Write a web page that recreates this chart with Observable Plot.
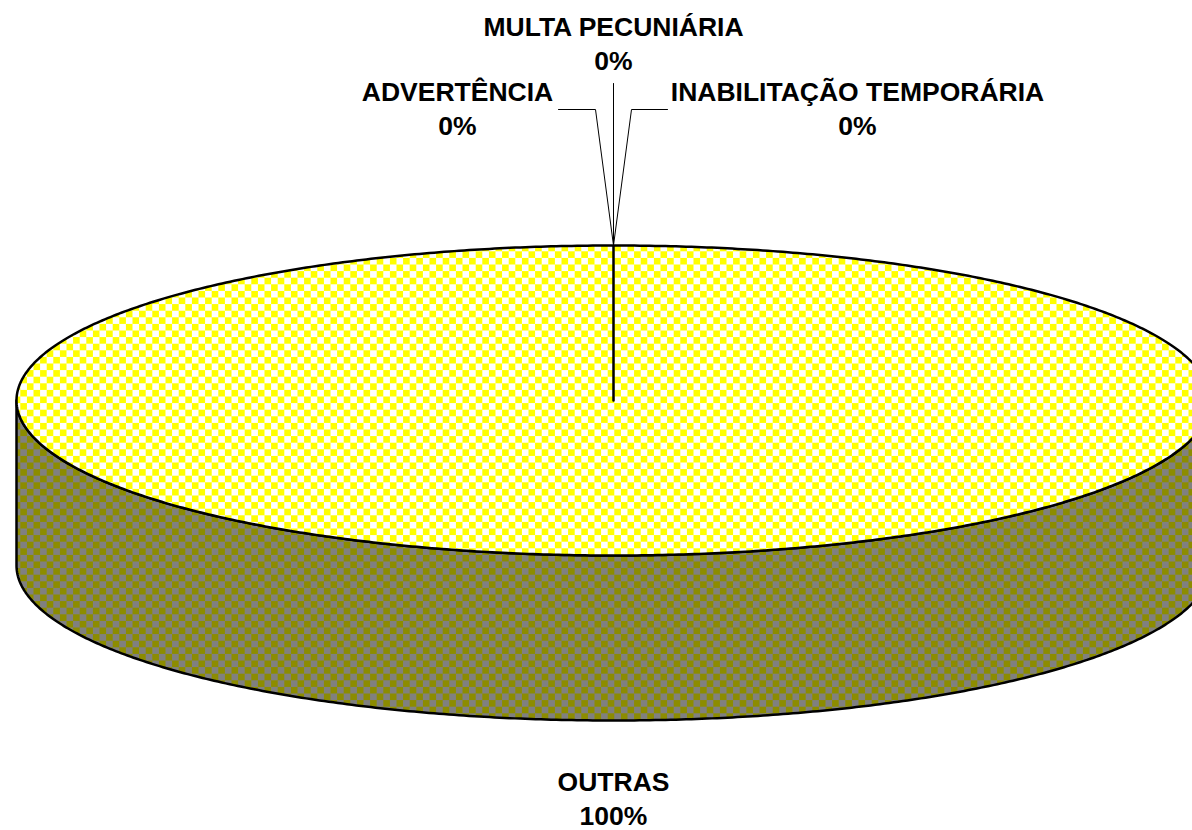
<!DOCTYPE html>
<html>
<head>
<meta charset="utf-8">
<script src="https://cdn.jsdelivr.net/npm/d3@7"></script>
<script src="https://cdn.jsdelivr.net/npm/@observablehq/plot@0.6"></script>
<style>
  html, body { margin: 0; padding: 0; background: #fff; overflow: hidden; }
  #chart svg { overflow: hidden; display: block; }
</style>
</head>
<body>
<div id="chart"></div>
<script>
// ---- data ----
const categories = ["ADVERTÊNCIA", "MULTA PECUNIÁRIA", "INABILITAÇÃO TEMPORÁRIA", "OUTRAS"];
const values = [0, 0, 0, 100];

// ---- layout (pie geometry & label placement, in px) ----
const W = 1192, H = 830;
const geom = { cx: 613, cy: 400, rx: 597, ry: 155, depth: 165 };
const labelLayout = [
  { x: 457, y: 100, elbow: [595, 109], tail: [558, 109] },
  { x: 613, y: 35, elbow: null, tail: [613, 83] },
  { x: 857, y: 100, elbow: [631, 109], tail: [667, 109] },
  { x: 613, y: 790, elbow: null, tail: null }
];
const lineGap = 34;

// ---- derived ----
const total = d3.sum(values);
const arcs = d3.pie().sort(null).value(d => d)(values);
const pt = (a, dz = 0) => ({ x: geom.cx + geom.rx * Math.sin(a), y: geom.cy - geom.ry * Math.cos(a) + dz });
function arcPts(a0, a1, dz = 0) {
  const n = Math.max(2, Math.ceil(Math.abs(a1 - a0) / (Math.PI / 360)));
  return d3.range(n + 1).map(i => pt(a0 + (a1 - a0) * i / n, dz));
}

const topPolys = [], sidePolys = [];
arcs.forEach((a, i) => {
  if (a.endAngle - a.startAngle <= 0) return;
  const key = categories[i];
  const center = { x: geom.cx, y: geom.cy };
  [center, ...arcPts(a.startAngle, a.endAngle), center].forEach(p => topPolys.push({ key, ...p }));
  const s = Math.max(a.startAngle, Math.PI / 2), e = Math.min(a.endAngle, 3 * Math.PI / 2);
  if (e > s) {
    const front = arcPts(s, e);
    const back = arcPts(e, s, geom.depth);
    [...front, ...back, front[0]].forEach(p => sidePolys.push({ key, ...p }));
  }
});

const leaders = [];
const labels = [];
arcs.forEach((a, i) => {
  const key = categories[i];
  const L = labelLayout[i];
  const pct = Math.round(values[i] / total * 100) + "%";
  labels.push({ x: L.x, y: L.y, text: key });
  labels.push({ x: L.x, y: L.y + lineGap, text: pct });
  if (L.tail) {
    const mid = (a.startAngle + a.endAngle) / 2;
    const p0 = pt(mid);
    leaders.push({ key, x: p0.x, y: p0.y });
    if (L.elbow) leaders.push({ key, x: L.elbow[0], y: L.elbow[1] });
    leaders.push({ key, x: L.tail[0], y: L.tail[1] });
  }
});

const font = "'Liberation Sans', Arial, sans-serif";

const plot = Plot.plot({
  width: W,
  height: H,
  margin: 0,
  x: { domain: [0, W], axis: null },
  y: { domain: [H, 0], axis: null },
  marks: [
    Plot.line(sidePolys, { x: "x", y: "y", z: "key", fill: "url(#sidePat)", stroke: "black", strokeWidth: 2.5, strokeLinejoin: "round", curve: "linear" }),
    Plot.line(topPolys, { x: "x", y: "y", z: "key", fill: "url(#topPat)", stroke: "black", strokeWidth: 2.5, strokeLinejoin: "round", curve: "linear" }),
    Plot.line(leaders, { x: "x", y: "y", z: "key", stroke: "black", strokeWidth: 1, curve: "linear" }),
    Plot.text(labels, { x: "x", y: "y", text: "text", fontSize: 26.5, fontWeight: "bold", fontFamily: font, fill: "black", lineAnchor: "bottom", textAnchor: "middle" })
  ]
});

// checkerboard patterns
const ns = "http://www.w3.org/2000/svg";
const defs = document.createElementNS(ns, "defs");
function makePattern(id, c1, c2, s) {
  const p = document.createElementNS(ns, "pattern");
  p.setAttribute("id", id);
  p.setAttribute("patternUnits", "userSpaceOnUse");
  p.setAttribute("width", 2 * s);
  p.setAttribute("height", 2 * s);
  const r = (x, y, w, h, f) => {
    const e = document.createElementNS(ns, "rect");
    e.setAttribute("x", x); e.setAttribute("y", y);
    e.setAttribute("width", w); e.setAttribute("height", h);
    e.setAttribute("fill", f);
    p.appendChild(e);
  };
  r(0, 0, 2 * s, 2 * s, c2);
  r(0, 0, s, s, c1);
  r(s, s, s, s, c1);
  defs.appendChild(p);
}
makePattern("topPat", "#ffff00", "#ffffff", 6.6);
makePattern("sidePat", "#8c8c00", "#808080", 6.6);
plot.insertBefore(defs, plot.firstChild);

document.getElementById("chart").appendChild(plot);
</script>
</body>
</html>
